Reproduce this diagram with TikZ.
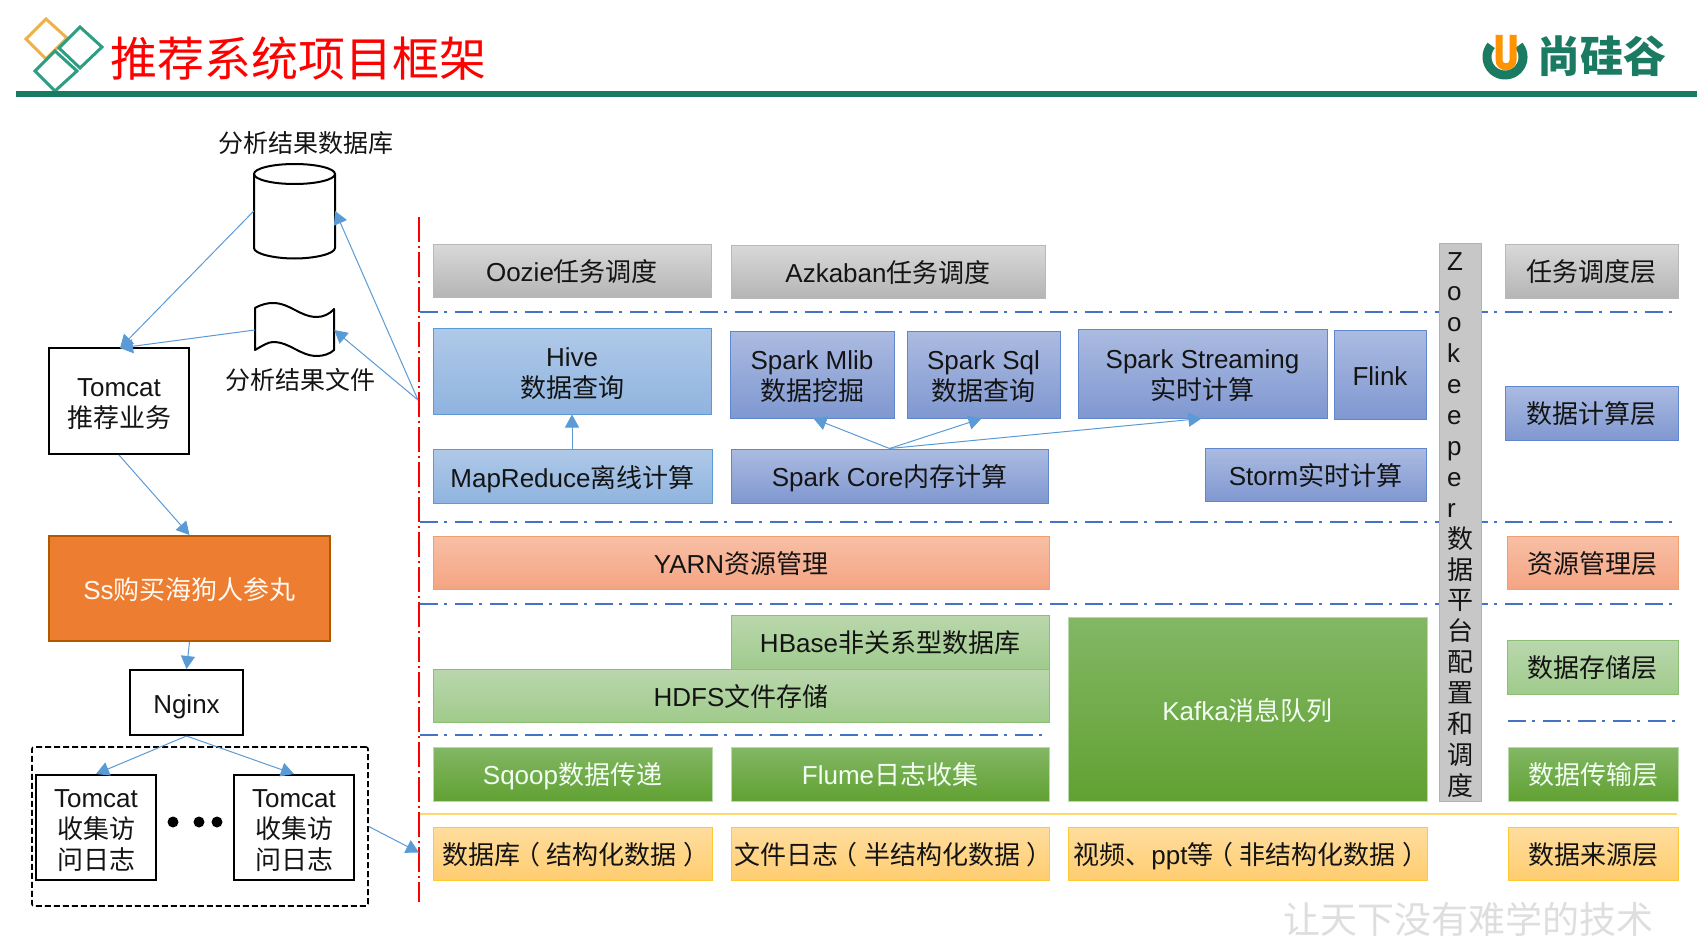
\documentclass[tikz,border=0pt]{standalone}
\usepackage{fontspec}
\setmainfont{Liberation Sans}
\newfontfamily\cjkf{Noto Sans CJK SC}
\usetikzlibrary{arrows.meta,calc}
\newcommand\zh[1]{{\cjkf #1}}
\newcommand\lpar{\kern-.25em（\kern.25em}
\newcommand\rpar{\kern.25em）\kern-.25em}
\newcommand\bx[7]{\node[#2,minimum width={(#5-#3)*1pt},minimum height={(#6-#4)*1pt}] (#1) at ({(#3+#5)/2},{(#4+#6)/2}) {\raisebox{-4.6pt}[\height][\depth]{\begin{tabular}{@{}c@{}}#7\end{tabular}}};}
\definecolor{arrowblue}{HTML}{5B9BD5}
\definecolor{dashblue}{HTML}{4472C4}
\definecolor{headgreen}{HTML}{1A7A62}
\definecolor{diagreen}{HTML}{2E9E82}
\definecolor{diaorange}{HTML}{EDB24A}
\definecolor{ORANGEf}{HTML}{ED7D31}
\tikzset{
  x=1pt,y=-1pt,
  txt/.style={font=\fontsize{26}{30.6}\selectfont,inner sep=0pt,text=black!92},
  base box/.style={txt,rectangle,line width=1pt,shading angle=0},
  graybox/.style={base box,draw=black!28,top color=black!15,bottom color=black!29},
  hivebox/.style={base box,draw=arrowblue,top color=HIVEa,bottom color=HIVEb},
  indigobox/.style={base box,draw=dashblue!85,top color=INDa,bottom color=INDb},
  salmonbox/.style={base box,draw=ORGb,top color=SALa,bottom color=SALb},
  lgreenbox/.style={base box,draw=GRNl,top color=LGa,bottom color=LGb},
  greenbox/.style={base box,draw=GRNl!60,top color=DGa,bottom color=DGb,text=white!95!green},
  yellowbox/.style={base box,draw=YELb,top color=YLa,bottom color=YLb},
  plainbox/.style={txt,rectangle,draw=black,line width=2pt,fill=white},
  ghost/.style={inner sep=0pt,rectangle},
  sidelabel/.style={inner sep=0pt,text=black!92,font=\fontsize{25}{30}\selectfont},
  flow/.style={draw=arrowblue,line width=1pt,-{Triangle[length=13pt,width=14pt,fill=arrowblue]}},
  reddash/.style={draw=red,line width=2.6pt,dash pattern=on 25pt off 4pt on 2pt off 4pt},
  bluedash/.style={draw=dashblue,line width=1.8pt,dash pattern=on 18pt off 6pt on 2.5pt off 8.5pt},
  dotmark/.style={circle,fill=black,minimum size=11pt,inner sep=0pt},
}
\definecolor{HIVEa}{HTML}{B0C9E8}\definecolor{HIVEb}{HTML}{8FB4DF}
\definecolor{INDa}{HTML}{ABBBE1}\definecolor{INDb}{HTML}{8098D1}
\definecolor{ORGb}{HTML}{F0A070}
\definecolor{SALa}{HTML}{F8BFA5}\definecolor{SALb}{HTML}{F4A582}
\definecolor{GRNl}{HTML}{8CBF72}
\definecolor{LGa}{HTML}{BAD7AD}\definecolor{LGb}{HTML}{A0CB8C}
\definecolor{DGa}{HTML}{83B765}\definecolor{DGb}{HTML}{61A132}
\definecolor{YELb}{HTML}{FFC933}
\definecolor{YLa}{HTML}{FFDD9E}\definecolor{YLb}{HTML}{FFCD70}
\begin{document}
\begin{tikzpicture}
\useasboundingbox[fill=white] (0,0) rectangle (1707,944);

% header
\draw[line width=3pt,color=diaorange] (46,19) -- (67,38) -- (46,59) -- (26,39) -- cycle;
\draw[line width=3pt,color=diagreen] (80,27) -- (102,47) -- (80,68) -- (59,48) -- cycle;
\draw[line width=3pt,color=diagreen] (55,51) -- (77,71) -- (55,91) -- (35,71) -- cycle;
\draw[line width=6pt,color=headgreen] (16,94) -- (1697,94);
\node[inner sep=0pt,text=red,font=\fontsize{47}{50}\selectfont] (title) at (298,59) {\zh{推荐系统项目框架}};
% brand
\draw[line width=9pt,color=headgreen] plot[domain=140:400,samples=40] ({1505+18*cos(\x)},{57-18*sin(\x)});
\draw[line width=7pt,color=orange!85!yellow] (1499,35) -- (1499,60) .. controls (1499,69) and (1513,69) .. (1513,60) -- (1513,35);
\node[inner sep=0pt,text=headgreen,font=\fontsize{43}{46}\selectfont\bfseries] (brand) at (1602,56) {\zh{尚硅谷}};

% left column
\node[sidelabel] (dblabel) at (306,143) {\zh{分析结果数据库}};
\node[ghost,minimum width=81pt,minimum height=94pt] (db) at (294.5,211) {};
\draw[line width=2pt] (254,174) -- (254,248) .. controls (254,254) and (275,258.5) .. (294.5,258.5) .. controls (314,258.5) and (335,254) .. (335,248) -- (335,174);
\draw[line width=2pt] (294.5,174) ellipse [x radius=40.5,y radius=10];
\node[ghost,minimum width=79pt,minimum height=50pt] (file) at (294.5,330) {};
\draw[line width=2pt,line join=round] (255,308) .. controls (262,304) and (268,303) .. (273,303) .. controls (290,303) and (300,317) .. (317,317) .. controls (323,317) and (330,314) .. (334,309) -- (334,350) .. controls (330,354) and (323,356) .. (317,356) .. controls (300,356) and (290,342) .. (273,342) .. controls (268,342) and (262,346) .. (255,350) -- cycle;
\node[sidelabel] (filelabel) at (300,380) {\zh{分析结果文件}};
\bx{tr}{plainbox}{49}{348}{189}{454}{Tomcat\\\zh{推荐业务}}
\bx{ss}{txt,rectangle,draw=orange!70!black,line width=2pt,fill=ORANGEf,text=white!95!orange}{49}{536}{330}{641}{Ss\zh{购买海狗人参丸}}
\bx{ng}{plainbox}{130}{670}{243}{735}{Nginx}
\bx{dbox}{rectangle,draw=black,line width=1.6pt,dash pattern=on 6pt off 3pt,rounded corners=2pt}{32}{747}{368}{906}{}
\bx{t1}{plainbox}{36}{775}{156}{880}{Tomcat\\\zh{收集访}\\\zh{问日志}}
\bx{t2}{plainbox}{234}{775}{354}{880}{Tomcat\\\zh{收集访}\\\zh{问日志}}
\node[dotmark] (d1) at (173,822) {};
\node[dotmark] (d2) at (199,822) {};
\node[dotmark] (d3) at (217,822) {};

% separators
\coordinate (rt) at (419,217);
\coordinate (rb) at (419,902);
\draw[reddash] (rt) -- (rb);
\foreach \yy in {312,522,604}{
  \draw[bluedash] (420,\yy) -- (1677,\yy);
}
\draw[bluedash] (420,735) -- (1045,735);
\draw[bluedash] (1508,721) -- (1677,721);
\draw[color=YELb!70!white,line width=1.8pt] (420,814) -- (1677,814);

% main boxes
\bx{oozie}{graybox}{433}{244}{711}{297}{Oozie\zh{任务调度}}
\bx{azk}{graybox}{731}{245}{1045}{298}{Azkaban\zh{任务调度}}
\bx{hive}{hivebox}{433}{328}{711}{414}{Hive\\\zh{数据查询}}
\bx{mlib}{indigobox}{730}{331}{894}{418}{Spark Mlib\\\zh{数据挖掘}}
\bx{sql}{indigobox}{907}{331}{1060}{418}{Spark Sql\\\zh{数据查询}}
\bx{strm}{indigobox}{1078}{329}{1327}{418}{Spark Streaming\\\zh{实时计算}}
\bx{flink}{indigobox}{1334}{330}{1426}{419}{Flink}
\bx{mr}{hivebox}{433}{449}{712}{503}{MapReduce\zh{离线计算}}
\bx{core}{indigobox}{731}{449}{1048}{503}{Spark Core\zh{内存计算}}
\bx{storm}{indigobox}{1205}{448}{1426}{501}{Storm\zh{实时计算}}
\bx{yarn}{salmonbox}{433}{536}{1049}{589}{YARN\zh{资源管理}}
\bx{hbase}{lgreenbox}{731}{615}{1049}{669}{HBase\zh{非关系型数据库}}
\bx{hdfs}{lgreenbox}{433}{669}{1049}{722}{HDFS\zh{文件存储}}
\bx{kafka}{greenbox}{1068}{617}{1427}{801}{Kafka\zh{消息队列}}
\bx{sqoop}{greenbox}{433}{747}{712}{801}{Sqoop\zh{数据传递}}
\bx{flume}{greenbox}{731}{747}{1049}{801}{Flume\zh{日志收集}}
\bx{src1}{yellowbox}{433}{827}{712}{880}{\zh{数据库\lpar 结构化数据\rpar}}
\bx{src2}{yellowbox}{731}{827}{1049}{880}{\zh{文件日志\lpar 半结构化数据\rpar}}
\bx{src3}{yellowbox}{1068}{827}{1427}{880}{\zh{视频、}ppt\zh{等\lpar 非结构化数据\rpar}}

% zookeeper column
\bx{zk}{rectangle,draw=black!30,line width=1pt,fill=black!22}{1439}{243}{1481}{801}{}
\node[anchor=north west,inner sep=0pt,align=left,text=black!92,font=\fontsize{26}{30.9}\selectfont] (zktext) at (1447,252) {Z\\o\\o\\k\\e\\e\\p\\e\\r\\\zh{数}\\\zh{据}\\\zh{平}\\\zh{台}\\\zh{配}\\\zh{置}\\\zh{和}\\\zh{调}\\\zh{度}};

% layer column
\bx{l1}{graybox}{1505}{244}{1678}{298}{\zh{任务调度层}}
\bx{l2}{indigobox}{1505}{386}{1678}{440}{\zh{数据计算层}}
\bx{l3}{salmonbox}{1507}{536}{1678}{589}{\zh{资源管理层}}
\bx{l4}{lgreenbox}{1507}{640}{1678}{694}{\zh{数据存储层}}
\bx{l5}{greenbox}{1508}{747}{1678}{801}{\zh{数据传输层}}
\bx{l6}{yellowbox}{1508}{827}{1678}{880}{\zh{数据来源层}}

% watermark
\node[inner sep=0pt,text=black!13,font=\fontsize{37}{40}\selectfont] (wm) at (1468,919) {\zh{让天下没有难学的技术}};

% connectors
\coordinate (hub) at (418,400);
\draw[flow] (db.west) -- ([shift={(72,1)}]tr.north west);
\draw[flow] (file.west) -- ([shift={(72,1)}]tr.north west);
\draw[flow] (hub) -- (db.east);
\draw[flow] (hub) -- (file.east);
\draw[flow] ([shift={(71,0)}]tr.south west) -- (ss.north);
\draw[flow] (ss.south) -- (ng.north);
\draw[flow] (ng.south) -- (t1.north);
\draw[flow] (ng.south) -- (t2.north);
\draw[flow] (dbox.east) -- ([yshift=-26pt]rt |- dbox.center);
\draw[flow] (mr.north -| hive.south) -- (hive.south);
\draw[flow] (core.north) -- ([shift={(84,0)}]mlib.south west);
\draw[flow] (core.north) -- ([shift={(75,0)}]sql.south west);
\draw[flow] (core.north) -- ([shift={(124,0)}]strm.south west);
\end{tikzpicture}
\end{document}
